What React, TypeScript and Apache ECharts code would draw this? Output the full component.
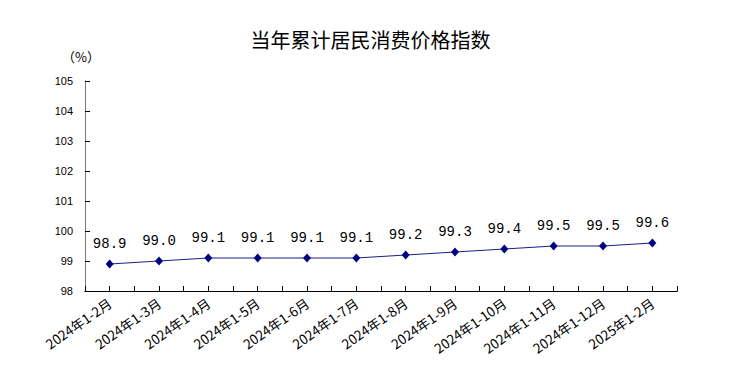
import React, { useEffect, useRef } from "react";
import * as echarts from "echarts";

const categories = [
  "2024年1-2月", "2024年1-3月", "2024年1-4月", "2024年1-5月", "2024年1-6月", "2024年1-7月",
  "2024年1-8月", "2024年1-9月", "2024年1-10月", "2024年1-11月", "2024年1-12月", "2025年1-2月",
];
const values = [98.9, 99.0, 99.1, 99.1, 99.1, 99.1, 99.2, 99.3, 99.4, 99.5, 99.5, 99.6];
const yMin = 98;
const yMax = 105;
const yInterval = 1;
const titleText = "当年累计居民消费价格指数";
const unitText = "（%）";

export default function App() {
  const ref = useRef<HTMLDivElement>(null);
  useEffect(() => {
    if (!ref.current) return;
    const chart = echarts.init(ref.current, null, { renderer: "svg" });
    chart.setOption({
      animation: false,
      backgroundColor: "#ffffff",
      title: {
        text: titleText,
        left: "center",
        top: 24,
        textStyle: { fontSize: 20, fontWeight: "normal", color: "#000", fontFamily: "Noto Sans CJK SC" },
      },
      graphic: [
        {
          type: "text",
          left: 62,
          top: 50,
          style: { text: unitText, fontSize: 13, fill: "#000", fontFamily: "Noto Sans CJK SC" },
        },
      ],
      grid: { left: 85, right: 64, top: 81, bottom: 99, containLabel: false },
      xAxis: [
        {
          type: "category",
          data: categories,
          boundaryGap: true,
          axisLine: { show: true, lineStyle: { color: "#000", width: 1 } },
          axisTick: { show: true, inside: true, length: 5, alignWithLabel: true, interval: 0, lineStyle: { color: "#000" } },
          axisLabel: {
            interval: 0,
            rotate: 35,
            margin: 10,
            fontSize: 13.5,
            color: "#000",
            fontFamily: "Noto Sans CJK SC",
          },
        },
        {
          type: "category",
          data: categories,
          boundaryGap: true,
          position: "bottom",
          axisLine: { show: true, lineStyle: { color: "#000", width: 1 } },
          axisTick: { show: true, inside: true, length: 5, interval: 0, lineStyle: { color: "#000" } },
          axisLabel: { show: false },
        },
      ],
      yAxis: {
        type: "value",
        min: yMin,
        max: yMax,
        interval: yInterval,
        axisLine: { show: true, lineStyle: { color: "#777", width: 1 } },
        axisTick: { show: true, inside: true, length: 5, lineStyle: { color: "#000" } },
        splitLine: { show: false },
        axisLabel: { fontSize: 11, color: "#000", margin: 12, fontFamily: "Liberation Sans" },
      },
      series: [
        {
          type: "line",
          xAxisIndex: 0,
          data: values,
          symbol: "diamond",
          symbolSize: [8, 9],
          itemStyle: { color: "#000080" },
          lineStyle: { color: "#1c1c88", width: 1 },
          label: {
            show: true,
            position: "top",
            distance: 9,
            fontSize: 14,
            color: "#000",
            fontFamily: "Liberation Mono",
            formatter: (p: any) => Number(p.value).toFixed(1),
          },
        },
      ],
    });
    return () => chart.dispose();
  }, []);
  return <div ref={ref} style={{ position: "fixed", left: 0, top: 0, width: 741, height: 390 }} />;
}
